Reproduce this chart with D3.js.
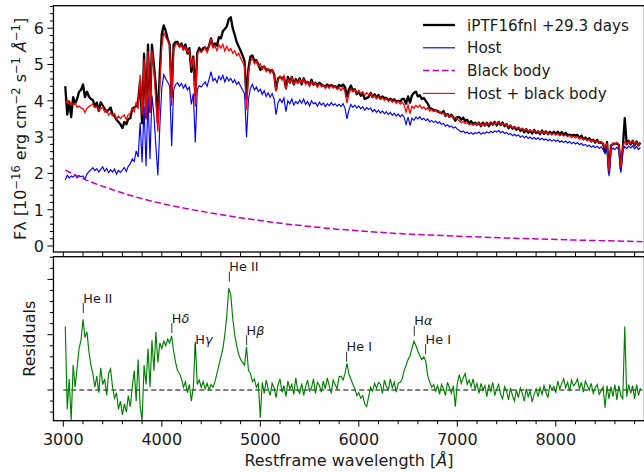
<!DOCTYPE html>
<html><head><meta charset="utf-8">
<script src="https://cdn.jsdelivr.net/npm/d3@7"></script>
<style>
html,body{margin:0;padding:0;background:#fff;}
svg{display:block;font-family:"DejaVu Sans",sans-serif;}
</style></head>
<body>
<svg id="c" width="644" height="472"></svg>
<script>
// ---------- DATA ----------
// wavelength grid of the spectra: 3020 ... 8860 Å in 20 Å steps
const waveStart = 3020, waveStep = 20;

const dataFlux = [
4.40,3.62,3.98,3.55,4.10,3.92,4.05,4.25,4.30,4.45,
4.10,4.25,4.12,4.05,4.02,3.84,3.95,3.72,3.96,3.87,
3.78,3.70,3.75,3.82,3.62,3.58,3.48,3.42,3.35,3.25,
3.42,3.35,3.50,3.52,3.78,3.82,3.85,4.00,4.55,3.38,
5.30,3.55,5.55,3.70,5.55,5.00,4.40,3.40,4.85,5.85,
6.08,5.92,5.70,5.55,4.10,5.55,5.62,5.62,5.50,5.58,
5.42,5.55,5.30,5.45,4.80,5.22,4.15,5.32,5.46,5.36,
5.45,5.47,5.38,5.52,5.72,5.50,5.58,5.52,5.75,5.72,
5.92,5.98,6.05,6.25,6.30,6.00,5.82,5.62,5.50,5.38,
5.25,5.10,4.05,4.90,5.22,5.25,5.10,5.12,5.00,4.85,
4.92,4.94,4.85,4.86,4.82,4.85,4.74,4.30,4.62,4.66,
4.62,4.66,4.35,4.66,4.50,4.66,4.45,4.60,4.50,4.62,
4.45,4.62,4.50,4.52,4.43,4.58,4.44,4.50,4.43,4.50,
4.45,4.42,4.40,4.45,4.40,4.44,4.40,4.40,4.36,4.44,
4.40,4.45,4.38,4.12,4.32,4.42,4.28,4.32,4.18,4.26,
4.14,4.20,4.05,4.08,4.10,4.22,4.10,4.18,4.08,4.16,
4.06,4.12,4.08,4.08,4.02,4.06,4.02,4.04,3.98,4.00,
3.98,4.05,4.05,3.92,4.12,3.95,4.15,4.22,4.25,4.12,
4.15,4.05,4.08,4.00,3.92,3.80,3.78,3.74,3.74,3.72,
3.68,3.66,3.72,3.58,3.64,3.56,3.62,3.54,3.45,3.55,
3.55,3.48,3.54,3.44,3.48,3.38,3.44,3.36,3.40,3.34,
3.40,3.30,3.40,3.32,3.40,3.30,3.40,3.34,3.42,3.32,
3.42,3.33,3.40,3.30,3.36,3.24,3.32,3.23,3.28,3.20,
3.26,3.17,3.22,3.13,3.22,3.12,3.18,3.10,3.20,3.11,
3.16,3.08,3.18,3.09,3.16,3.08,3.15,3.08,3.15,3.08,
3.15,3.07,3.14,3.06,3.12,3.05,3.07,3.04,3.06,3.04,
3.06,2.97,3.04,2.94,2.99,2.92,2.97,2.88,2.93,2.85,
2.92,2.84,2.85,2.82,2.58,2.86,2.02,2.77,2.80,2.82,
2.82,2.79,2.12,2.70,3.52,2.80,2.90,2.80,2.90,2.77,
2.88,2.77,2.85];

const hostFlux = [
1.82,1.95,1.87,1.93,1.90,1.96,1.88,1.94,1.91,1.93,
1.84,1.98,2.05,2.10,2.16,2.08,2.13,2.04,2.11,2.18,
2.06,2.14,2.02,2.10,2.04,2.12,1.98,2.08,2.03,2.10,
2.16,2.05,2.20,2.26,2.40,2.33,2.62,2.45,3.40,2.30,
3.85,2.20,4.10,2.40,4.15,3.60,2.75,1.95,3.30,4.35,
4.72,4.60,4.52,4.40,2.75,4.30,4.45,4.50,4.40,4.48,
4.35,4.45,4.30,4.38,3.90,4.20,2.85,4.30,4.42,4.38,
4.45,4.52,4.40,4.60,4.80,4.55,4.62,4.50,4.68,4.58,
4.70,4.52,4.66,4.55,4.62,4.50,4.58,4.45,4.52,4.40,
4.30,4.20,3.00,4.05,4.35,4.45,4.30,4.38,4.25,4.32,
4.18,4.28,4.12,4.22,4.10,4.20,4.05,3.62,3.95,4.05,
3.95,4.08,3.70,4.00,3.92,4.05,3.88,3.98,3.92,4.02,
3.93,4.05,3.90,3.98,3.86,4.00,3.92,3.95,3.85,3.96,
3.88,3.94,3.84,3.92,3.86,3.95,3.88,3.92,3.85,3.90,
3.84,3.92,3.80,3.50,3.75,3.90,3.82,3.88,3.80,3.86,
3.78,3.84,3.74,3.82,3.76,3.80,3.70,3.76,3.68,3.74,
3.66,3.72,3.64,3.70,3.62,3.68,3.60,3.66,3.58,3.64,
3.56,3.62,3.55,3.35,3.55,3.32,3.52,3.46,3.55,3.50,
3.56,3.48,3.52,3.45,3.50,3.42,3.46,3.40,3.44,3.38,
3.42,3.35,3.38,3.30,3.34,3.28,3.31,3.25,3.28,3.22,
3.18,3.14,3.17,3.11,3.14,3.09,3.12,3.08,3.12,3.10,
3.14,3.08,3.12,3.10,3.15,3.11,3.16,3.12,3.17,3.14,
3.18,3.12,3.16,3.10,3.13,3.07,3.10,3.04,3.08,3.03,
3.06,3.00,3.04,2.98,3.02,2.96,3.00,2.95,2.99,2.94,
2.98,2.93,2.97,2.92,2.95,2.90,2.94,2.89,2.93,2.88,
2.92,2.86,2.90,2.85,2.89,2.84,2.88,2.82,2.86,2.81,
2.85,2.79,2.83,2.77,2.80,2.74,2.78,2.72,2.76,2.71,
2.75,2.69,2.73,2.66,2.55,2.70,1.92,2.62,2.70,2.66,
2.72,2.64,2.02,2.62,2.74,2.68,2.75,2.70,2.76,2.68,
2.74,2.66,2.72];

const modelFlux = [
3.91,4.02,3.91,3.95,3.89,3.93,3.82,3.86,3.80,3.79,
3.68,3.79,3.84,3.87,3.91,3.81,3.84,3.73,3.78,3.83,
3.69,3.75,3.61,3.67,3.59,3.65,3.50,3.58,3.51,3.57,
3.61,3.48,3.62,3.66,3.78,3.70,3.97,3.78,4.72,3.61,
5.15,3.48,5.37,3.66,5.39,4.83,3.97,3.15,4.49,5.52,
5.88,5.75,5.66,5.53,3.86,5.40,5.54,5.58,5.47,5.54,
5.40,5.49,5.33,5.40,4.91,5.20,3.84,5.28,5.39,5.34,
5.40,5.46,5.33,5.52,5.71,5.45,5.51,5.38,5.55,5.45,
5.56,5.37,5.50,5.38,5.44,5.31,5.38,5.25,5.31,5.18,
5.07,4.96,3.75,4.79,5.09,5.18,5.02,5.09,4.95,5.02,
4.87,4.96,4.80,4.89,4.76,4.85,4.70,4.26,4.58,4.68,
4.57,4.69,4.31,4.60,4.51,4.64,4.46,4.56,4.49,4.59,
4.49,4.61,4.45,4.53,4.40,4.53,4.45,4.47,4.37,4.47,
4.39,4.44,4.34,4.41,4.34,4.43,4.35,4.39,4.31,4.36,
4.29,4.37,4.24,3.94,4.19,4.33,4.25,4.30,4.22,4.28,
4.20,4.25,4.15,4.22,4.16,4.20,4.09,4.15,4.06,4.12,
4.04,4.09,4.01,4.07,3.98,4.04,3.96,4.01,3.93,3.99,
3.91,3.96,3.89,3.69,3.88,3.65,3.85,3.79,3.87,3.82,
3.88,3.79,3.83,3.76,3.81,3.72,3.76,3.70,3.74,3.68,
3.71,3.64,3.67,3.58,3.62,3.56,3.59,3.52,3.55,3.49,
3.45,3.40,3.43,3.37,3.40,3.34,3.37,3.33,3.37,3.35,
3.39,3.32,3.36,3.34,3.39,3.35,3.39,3.35,3.40,3.37,
3.41,3.35,3.38,3.32,3.35,3.29,3.32,3.25,3.29,3.24,
3.27,3.21,3.25,3.18,3.22,3.16,3.20,3.15,3.19,3.14,
3.17,3.12,3.16,3.11,3.14,3.09,3.12,3.07,3.11,3.06,
3.10,3.04,3.08,3.03,3.06,3.01,3.05,2.99,3.03,2.98,
3.02,2.95,2.99,2.93,2.96,2.90,2.94,2.88,2.91,2.86,
2.90,2.84,2.88,2.81,2.70,2.84,2.06,2.76,2.84,2.80,
2.86,2.78,2.16,2.75,2.87,2.81,2.88,2.83,2.89,2.81,
2.86,2.78,2.84];

const residual = [
1.15,-0.35,0.20,-0.55,0.45,0.05,0.40,0.75,0.90,1.28,
0.95,1.05,0.70,0.45,0.30,0.05,0.25,-0.05,0.40,0.10,
0.20,-0.10,0.30,0.38,0.05,-0.15,-0.05,-0.35,-0.20,-0.45,
-0.25,-0.40,-0.10,-0.30,0.05,0.35,-0.20,0.55,-0.30,-0.55,
0.45,0.10,0.75,0.05,0.90,0.35,1.05,0.50,0.85,0.75,
0.88,0.80,0.92,0.85,0.98,0.70,0.50,0.35,0.30,0.20,
0.05,0.15,-0.05,0.10,-0.20,0.05,0.87,0.10,0.18,0.05,
0.15,0.02,0.12,0.00,0.10,0.05,0.15,0.30,0.45,0.60,
0.75,1.00,1.35,1.84,1.72,1.30,1.00,0.80,0.65,0.55,
0.50,0.45,0.78,0.35,0.30,0.15,0.20,0.05,0.12,-0.50,
0.14,-0.06,0.18,0.02,-0.10,0.12,0.04,-0.14,0.10,0.20,
-0.04,0.08,-0.12,0.16,0.02,0.10,-0.08,0.22,0.00,-0.06,
0.12,-0.10,0.06,0.18,-0.02,0.04,0.20,-0.06,0.14,0.08,
-0.04,0.16,0.02,0.22,0.08,-0.06,0.18,0.10,0.02,0.24,
0.25,0.18,0.30,0.48,0.28,0.20,0.10,0.02,-0.10,-0.05,
-0.15,-0.10,-0.25,-0.30,-0.12,0.05,-0.02,0.12,0.03,0.14,
0.10,-0.06,0.18,0.06,0.00,0.20,0.04,0.14,-0.04,0.12,
0.14,0.20,0.35,0.45,0.55,0.62,0.75,0.88,0.80,0.70,
0.62,0.55,0.60,0.52,0.25,0.15,0.05,0.10,-0.02,0.08,
-0.08,0.10,0.02,-0.10,0.14,0.04,-0.06,0.08,-0.30,0.12,
0.28,0.12,0.22,0.30,0.10,0.18,0.06,0.20,0.02,0.12,
-0.06,0.12,0.00,0.08,-0.12,0.10,-0.02,0.14,-0.10,0.02,
0.10,-0.08,-0.16,0.06,-0.02,-0.18,0.04,-0.10,-0.20,0.00,
-0.14,0.04,-0.06,-0.20,0.02,-0.12,-0.02,-0.22,-0.08,0.02,
-0.12,0.04,-0.08,0.08,-0.04,-0.14,0.10,0.00,0.06,-0.04,
0.16,0.02,0.12,0.20,0.04,0.14,-0.02,0.18,0.08,0.12,
0.20,0.02,0.14,-0.04,0.16,0.08,0.00,0.12,-0.06,0.04,
0.10,-0.08,-0.02,0.06,-0.32,0.08,-0.16,0.06,-0.12,0.10,
-0.18,0.08,-0.10,-0.16,1.15,-0.12,0.10,-0.06,0.08,-0.16,
0.10,-0.10,0.04];

// black-body fit (sampled along the curve)
const bbWave = [3020,3250,3500,3750,4000,4250,4500,4750,5000,5250,5500,5750,6000,6250,6500,6750,7000,7250,7500,7750,8000,8250,8500,8750,8880];
const bbFlux = [2.09,1.80,1.55,1.34,1.17,1.03,0.91,0.80,0.70,0.61,0.54,0.47,0.42,0.37,0.33,0.30,0.27,0.245,0.22,0.20,0.18,0.16,0.145,0.13,0.12];

// line identifications in the residual panel
const lineNames  = ["He II","Hδ","Hγ","He II","Hβ","He I","Hα","He I"];
const lineWaves  = [3203,4102,4340,4686,4861,5876,6563,6678];
const lineLevels = [1.39,1.03,0.65,1.96,0.81,0.51,0.98,0.65];

const legendLabels = ["iPTF16fnl +29.3 days","Host","Black body","Host + black body"];

const xTicks = [3000,4000,5000,6000,7000,8000];
const yTopTicks = [0,1,2,3,4,5,6];

// ---------- LAYOUT ----------
const svg = d3.select("#c");
const L = 53.45, R = 644.45;
const T1 = 5.7, B1 = 252, T2 = 256.7, B2 = 420.7;

const x = d3.scaleLinear().domain([2900, 8900]).range([L, R]);
const yTop = d3.scaleLinear().domain([-0.165, 6.62]).range([B1, T1]);
const yRes = d3.scaleLinear().domain([-0.555, 2.41]).range([B2, T2]);

const wave = dataFlux.map((_, i) => waveStart + i * waveStep);

const defs = svg.append("defs");
defs.append("clipPath").attr("id","clipTop").append("rect")
  .attr("x",L).attr("y",T1).attr("width",R-L).attr("height",B1-T1);
defs.append("clipPath").attr("id","clipBot").append("rect")
  .attr("x",L).attr("y",T2).attr("width",R-L).attr("height",B2-T2);

const gTop = svg.append("g").attr("clip-path","url(#clipTop)");
const gBot = svg.append("g").attr("clip-path","url(#clipBot)");

const lineTop = (arr) => d3.line().x((d,i)=>x(wave[i])).y(d=>yTop(d))(arr);

gTop.append("path").attr("d", lineTop(dataFlux))
  .attr("fill","none").attr("stroke","#000").attr("stroke-width",2.3).attr("stroke-linejoin","round");
gTop.append("path").attr("d", lineTop(hostFlux))
  .attr("fill","none").attr("stroke","#0000ff").attr("stroke-width",1.15);
gTop.append("path")
  .attr("d", d3.line().curve(d3.curveMonotoneX).x((d,i)=>x(bbWave[i])).y(d=>yTop(d))(bbFlux))
  .attr("fill","none").attr("stroke","#bf00bf").attr("stroke-width",1.5).attr("stroke-dasharray","6.5,3");
gTop.append("path").attr("d", lineTop(modelFlux))
  .attr("fill","none").attr("stroke","#ff0000").attr("stroke-width",1.3);

// residual panel
gBot.append("line").attr("x1",x(3000)).attr("x2",x(8880)).attr("y1",yRes(0)).attr("y2",yRes(0))
  .attr("stroke","#000").attr("stroke-width",1).attr("stroke-dasharray","5,3");
gBot.append("path")
  .attr("d", d3.line().x((d,i)=>x(wave[i])).y(d=>yRes(d))(residual))
  .attr("fill","none").attr("stroke","#008000").attr("stroke-width",1.15);

// line annotations
const ann = svg.append("g").attr("font-size","12.8px").attr("fill","#1a1a1a");
lineNames.forEach((n,i)=>{
  const px = x(lineWaves[i]), py = yRes(lineLevels[i]);
  ann.append("line").attr("x1",px).attr("x2",px).attr("y1",py).attr("y2",py-10)
    .attr("stroke","#333").attr("stroke-width",1);
  const t = ann.append("text").attr("x",px).attr("y",py-10.5);
  if (n.startsWith("H") && n.length===2) {
    t.append("tspan").text("H");
    t.append("tspan").attr("font-style","italic").text(n.slice(1));
  } else t.text(n);
});

// ---------- AXES ----------
const frame = svg.append("g").attr("fill","none").attr("stroke","#000").attr("stroke-width",1.3);
frame.append("rect").attr("x",L).attr("y",T1).attr("width",R-L).attr("height",B1-T1);
frame.append("rect").attr("x",L).attr("y",T2).attr("width",R-L).attr("height",B2-T2);

const ticks = svg.append("g").attr("stroke","#000").attr("stroke-width",1);
const minorX = d3.range(3000, 8801, 200);
// ticks in the gap between panels
minorX.forEach(v=>{
  ticks.append("line").attr("x1",x(v)).attr("x2",x(v)).attr("y1",B1).attr("y2",T2);
});
// bottom axis ticks
minorX.forEach(v=>{
  const major = xTicks.includes(v);
  ticks.append("line").attr("x1",x(v)).attr("x2",x(v)).attr("y1",B2).attr("y2",B2+(major?6:3.5));
});
// top panel y ticks
d3.range(0, 6.61, 0.2).forEach(v=>{
  const major = Math.abs(v-Math.round(v))<1e-6;
  ticks.append("line").attr("x1",L).attr("x2",L-(major?6:3.5)).attr("y1",yTop(v)).attr("y2",yTop(v));
});
// residual panel y ticks
d3.range(-0.4, 2.41, 0.2).forEach(v=>{
  const major = Math.abs(v-Math.round(v))<1e-6;
  ticks.append("line").attr("x1",L).attr("x2",L-(major?6:3.5)).attr("y1",yRes(v)).attr("y2",yRes(v));
});

const labels = svg.append("g").attr("fill","#1a1a1a").attr("font-size","16px");
xTicks.forEach(v=>{
  labels.append("text").attr("x",x(v)).attr("y",445.3).attr("text-anchor","middle").text(v);
});
yTopTicks.forEach(v=>{
  labels.append("text").attr("x",44).attr("y",yTop(v)+5.8).attr("text-anchor","end").text(v);
});

labels.append("text").attr("x",(L+R)/2).attr("y",466).attr("text-anchor","middle")
  .call(t=>{
    t.append("tspan").text("Restframe wavelength [");
    t.append("tspan").attr("font-style","italic").text("Å");
    t.append("tspan").text("]");
  });

labels.append("text").attr("transform",`translate(35,${(T2+B2)/2}) rotate(-90)`)
  .attr("text-anchor","middle").text("Residuals");

const yl = labels.append("text").attr("transform",`translate(26,${(T1+B1)/2}) rotate(-90)`)
  .attr("text-anchor","middle");
yl.append("tspan").text("Fλ [10");
yl.append("tspan").attr("dy",-6).attr("font-size","11.5px").text("−16");
yl.append("tspan").attr("dy",6).text(" erg cm");
yl.append("tspan").attr("dy",-6).attr("font-size","11.5px").text("−2");
yl.append("tspan").attr("dy",6).text(" s");
yl.append("tspan").attr("dy",-6).attr("font-size","11.5px").text("−1");
yl.append("tspan").attr("dy",6).text(" ");
yl.append("tspan").attr("font-style","italic").text("Å");
yl.append("tspan").attr("dy",-6).attr("font-size","11.5px").text("−1");
yl.append("tspan").attr("dy",6).text("]");

// ---------- LEGEND ----------
const leg = svg.append("g");
const legStyles = [
  {c:"#000", w:2.3, d:null},
  {c:"#0000ff", w:1.15, d:null},
  {c:"#bf00bf", w:1.5, d:"6.5,3"},
  {c:"#ff0000", w:1.15, d:null}
];
legendLabels.forEach((lab,i)=>{
  const yy = 25 + i*22.8;
  leg.append("line").attr("x1",423).attr("x2",455).attr("y1",yy).attr("y2",yy)
    .attr("stroke",legStyles[i].c).attr("stroke-width",legStyles[i].w)
    .attr("stroke-dasharray",legStyles[i].d);
  leg.append("text").attr("x",467).attr("y",yy+5.5).attr("font-size","15.2px")
    .attr("fill","#1a1a1a").text(lab);
});
</script>
</body></html>
